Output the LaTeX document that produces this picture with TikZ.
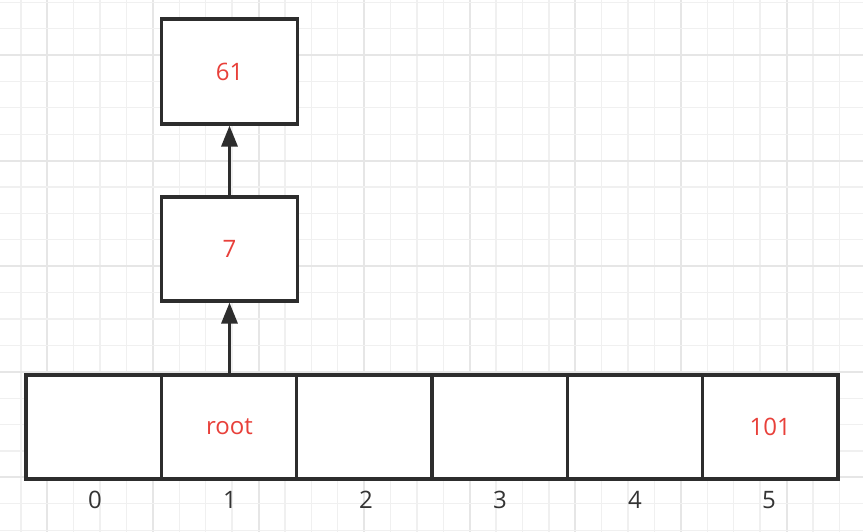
\documentclass[tikz,border=0pt]{standalone}
\usepackage{fontspec}
\setmainfont{Open Sans}
\usetikzlibrary{arrows.meta}
\definecolor{txtred}{RGB}{232,64,58}
\definecolor{edge}{RGB}{45,45,45}
\definecolor{idx}{RGB}{51,51,51}
\begin{document}
\begin{tikzpicture}[x=1pt,y=-1pt,
  minorgrid/.style={draw={rgb,255:red,240;green,240;blue,240},line width=1.3pt},
  majorgrid/.style={draw={rgb,255:red,230;green,230;blue,230},line width=2pt},
  box/.style={draw=edge,line width=3.2pt,fill=white,minimum width=136pt,minimum height=105pt,inner sep=0pt,
    text=txtred,font=\fontsize{24}{28}\selectfont},
  cell/.style={box,minimum width=135.3pt,minimum height=104pt},
  idxlab/.style={text=idx,font=\fontsize{24}{28}\selectfont,inner sep=0pt},
  arr/.style={draw=edge,line width=3.2pt,-{Triangle[width=16pt,length=21pt]}}]
\fill[white] (0,0) rectangle (863,532);
\useasboundingbox (0,0) rectangle (863,532);
% grid
\foreach \k in {0,...,31}{
  \pgfmathtruncatemacro\m{mod(\k,4)}
  \ifnum\m=1 \draw[majorgrid] (20.9+\k*26.4,0) -- (20.9+\k*26.4,532);
  \else \draw[minorgrid] (20.9+\k*26.4,0) -- (20.9+\k*26.4,532); \fi
}
\foreach \k in {0,...,20}{
  \pgfmathtruncatemacro\m{mod(\k,4)}
  \ifnum\m=2 \draw[majorgrid] (0,2.2+\k*26.4) -- (863,2.2+\k*26.4);
  \else \draw[minorgrid] (0,2.2+\k*26.4) -- (863,2.2+\k*26.4); \fi
}
% boxes
\node[box] (n61) at (229.5,71.5) {61};
\node[box,minimum height=104pt] (n7) at (229.5,249) {7};
% array cells
\node[cell] (c0) at (93.7,427) {};
\node[cell] (c1) at (229.5,427) {root};
\node[cell] (c2) at (364.3,427) {};
\node[cell] (c3) at (499.7,427) {};
\node[cell] (c4) at (635,427) {};
\node[cell] (c5) at (770.3,427) {101};
% index labels
\node[idxlab] (i0) at (95,500) {0};
\node[idxlab] (i1) at (230,500) {1};
\node[idxlab] (i2) at (366,500) {2};
\node[idxlab] (i3) at (500,500) {3};
\node[idxlab] (i4) at (635,500) {4};
\node[idxlab] (i5) at (769,500) {5};
% arrows
\draw[arr] (c1.north) -- (n7.south);
\draw[arr] (n7.north) -- (n61.south);
\end{tikzpicture}
\end{document}
